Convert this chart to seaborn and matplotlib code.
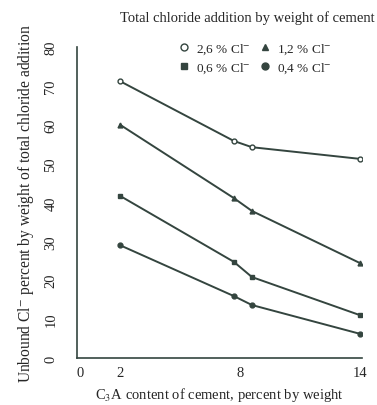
import pandas as pd
import matplotlib
matplotlib.use("Agg")
import matplotlib.pyplot as plt
import seaborn as sns
from matplotlib.lines import Line2D

# data
c3a = [2, 7.7, 8.6, 14]
cl_26 = [71.2, 55.8, 54.2, 51.2]
cl_12 = [60.0, 41.1, 37.8, 24.4]
cl_06 = [41.7, 24.7, 20.8, 11.0]
cl_04 = [29.0, 15.9, 13.6, 6.2]
series_labels = ["2,6 % Cl$^{-}$", "1,2 % Cl$^{-}$", "0,6 % Cl$^{-}$", "0,4 % Cl$^{-}$"]
x_ticks = [0, 2, 8, 14]
y_ticks = [0, 10, 20, 30, 40, 50, 60, 70, 80]

rows = []
for lab, vals in zip(series_labels, [cl_26, cl_12, cl_06, cl_04]):
    for x, y in zip(c3a, vals):
        rows.append({"c3a": x, "unbound": y, "serie": lab})
df = pd.DataFrame(rows)

sns.set_style("white")
plt.rcParams["font.family"] = ["Liberation Serif", "DejaVu Serif"]
plt.rcParams["mathtext.fontset"] = "stix"

couleur = "#34453f"
marqueurs = {series_labels[0]: "o", series_labels[1]: "^",
             series_labels[2]: "s", series_labels[3]: "o"}
remplissage = {series_labels[0]: "white", series_labels[1]: couleur,
               series_labels[2]: couleur, series_labels[3]: couleur}

fig = plt.figure(figsize=(3.77, 4.06), dpi=100)
ax = fig.add_axes([0.204, 0.116, 0.756, 0.766])

for lab in series_labels:
    sub = df[df["serie"] == lab]
    sns.lineplot(data=sub, x="c3a", y="unbound", ax=ax, color=couleur, lw=1.4,
                 marker=marqueurs[lab], markersize=3.5, markerfacecolor=remplissage[lab],
                 markeredgecolor=couleur, markeredgewidth=1, legend=False)

ax.set_xlim(-0.15, 14.1)
ax.set_ylim(0, 80)
ax.set_xticks(x_ticks)
ax.set_yticks(y_ticks)
ax.set_xticklabels([str(t) for t in x_ticks], fontsize=10.5)
ax.set_yticklabels([str(t) for t in y_ticks], fontsize=10.5, rotation=90, va="center")
ax.tick_params(axis="both", direction="in", length=3, color=couleur)
ax.tick_params(axis="y", pad=14)
ax.tick_params(axis="x", pad=6)
for s in ["top", "right"]:
    ax.spines[s].set_visible(False)
for s in ["left", "bottom"]:
    ax.spines[s].set_color(couleur)
    ax.spines[s].set_linewidth(1.2)

ax.set_xlabel("C$_3$A content of cement, percent by weight", fontsize=10.5, labelpad=4)
ax.set_ylabel("Unbound Cl$^{-}$ percent by weight of total chloride addition", fontsize=11.2, labelpad=6)
fig.text(0.655, 0.956, "Total chloride addition by weight of cement", fontsize=10.5,
         ha="center", va="center")

# legende sans lignes, seulement les marqueurs
handles = [Line2D([], [], ls="none", marker=marqueurs[l], markersize=5,
                  markerfacecolor=remplissage[l], markeredgecolor=couleur)
           for l in series_labels]
order = [0, 2, 1, 3]
ax.legend([handles[i] for i in order], [series_labels[i] for i in order],
          ncol=2, frameon=False, fontsize=9.5, loc="center left",
          bbox_to_anchor=(0.44, 0.855), bbox_transform=fig.transFigure,
          handletextpad=0.4, columnspacing=0.6, labelspacing=0.35, handlelength=1)

plt.savefig("out.png", dpi=100)
